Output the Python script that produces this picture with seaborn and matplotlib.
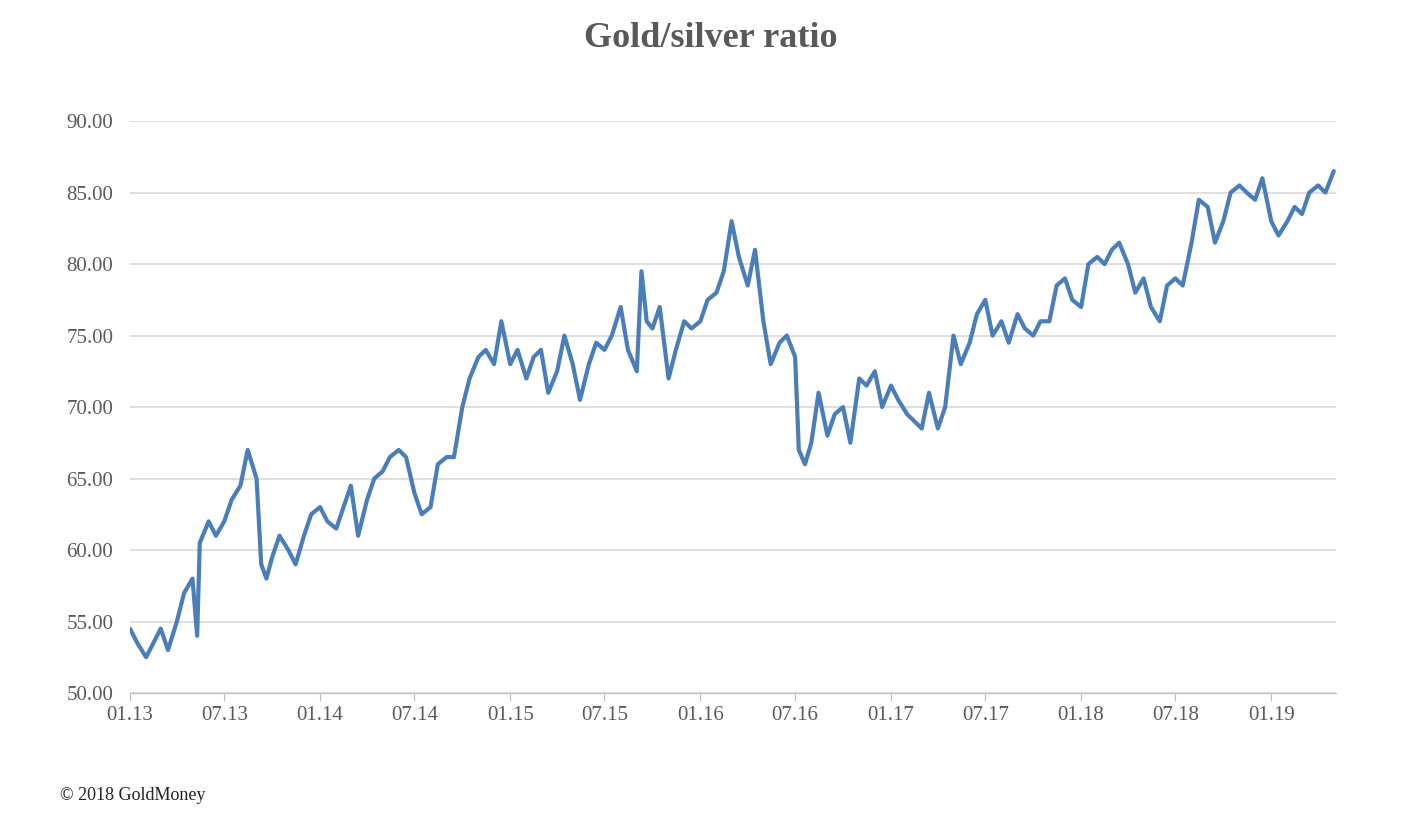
import matplotlib
matplotlib.use("Agg")
import matplotlib.pyplot as plt
import matplotlib.dates as mdates
import seaborn as sns
import pandas as pd

dates = [
"2013-01-01","2013-01-15","2013-02-01","2013-02-15","2013-03-01","2013-03-15","2013-04-01","2013-04-15","2013-05-01","2013-05-10","2013-05-15","2013-06-01","2013-06-15","2013-07-01","2013-07-15","2013-08-01","2013-08-15","2013-09-01","2013-09-10","2013-09-20","2013-10-01","2013-10-15","2013-11-01","2013-11-15","2013-12-01","2013-12-15",
"2014-01-01","2014-01-15","2014-02-01","2014-02-15","2014-03-01","2014-03-15","2014-04-01","2014-04-15","2014-05-01","2014-05-15","2014-06-01","2014-06-15","2014-07-01","2014-07-15","2014-08-01","2014-08-15","2014-09-01","2014-09-15","2014-10-01","2014-10-15","2014-11-01","2014-11-15","2014-12-01","2014-12-15",
"2015-01-01","2015-01-15","2015-02-01","2015-02-15","2015-03-01","2015-03-15","2015-04-01","2015-04-15","2015-05-01","2015-05-15","2015-06-01","2015-06-15","2015-07-01","2015-07-15","2015-08-01","2015-08-15","2015-09-01","2015-09-10","2015-09-20","2015-10-01","2015-10-15","2015-11-01","2015-11-15","2015-12-01","2015-12-15",
"2016-01-01","2016-01-15","2016-02-01","2016-02-15","2016-03-01","2016-03-15","2016-04-01","2016-04-15","2016-05-01","2016-05-15","2016-06-01","2016-06-15","2016-07-01","2016-07-08","2016-07-20","2016-08-01","2016-08-15","2016-09-01","2016-09-15","2016-10-01","2016-10-15","2016-11-01","2016-11-15","2016-12-01","2016-12-15",
"2017-01-01","2017-01-15","2017-02-01","2017-02-15","2017-03-01","2017-03-15","2017-04-01","2017-04-15","2017-05-01","2017-05-15","2017-06-01","2017-06-15","2017-07-01","2017-07-15","2017-08-01","2017-08-15","2017-09-01","2017-09-15","2017-10-01","2017-10-15","2017-11-01","2017-11-15","2017-12-01","2017-12-15",
"2018-01-01","2018-01-15","2018-02-01","2018-02-15","2018-03-01","2018-03-15","2018-04-01","2018-04-15","2018-05-01","2018-05-15","2018-06-01","2018-06-15","2018-07-01","2018-07-15","2018-08-01","2018-08-15","2018-09-01","2018-09-15","2018-10-01","2018-10-15","2018-11-01","2018-11-15","2018-12-01","2018-12-15",
"2019-01-01","2019-01-15","2019-02-01","2019-02-15","2019-03-01","2019-03-15","2019-04-01","2019-04-15","2019-05-01"]
ratio = [
54.5,53.5,52.5,53.5,54.5,53,55,57,58,54,60.5,62,61,62,63.5,64.5,67,65,59,58,59.5,61,60,59,61,62.5,
63,62,61.5,63,64.5,61,63.5,65,65.5,66.5,67,66.5,64,62.5,63,66,66.5,66.5,70,72,73.5,74,73,76,
73,74,72,73.5,74,71,72.5,75,73,70.5,73,74.5,74,75,77,74,72.5,79.5,76,75.5,77,72,74,76,75.5,
76,77.5,78,79.5,83,80.5,78.5,81,76,73,74.5,75,73.5,67,66,67.5,71,68,69.5,70,67.5,72,71.5,72.5,70,
71.5,70.5,69.5,69,68.5,71,68.5,70,75,73,74.5,76.5,77.5,75,76,74.5,76.5,75.5,75,76,76,78.5,79,77.5,
77,80,80.5,80,81,81.5,80,78,79,77,76,78.5,79,78.5,81.5,84.5,84,81.5,83,85,85.5,85,84.5,86,
83,82,83,84,83.5,85,85.5,85,86.5]
tick_labels = ["01.13","07.13","01.14","07.14","01.15","07.15","01.16","07.16","01.17","07.17","01.18","07.18","01.19"]
yticks = [50,55,60,65,70,75,80,85,90]

df = pd.DataFrame({"date": pd.to_datetime(dates), "ratio": ratio})
sns.set_style("white")
plt.rcParams['font.family'] = ['Liberation Serif', 'DejaVu Serif']
gray = "#595959"

fig = plt.figure(figsize=(14.22, 8.24), dpi=100)
ax = fig.add_axes([0.0914, 0.159, 0.848, 0.694])
sns.lineplot(data=df, x="date", y="ratio", ax=ax, color="#4a7ebb", linewidth=3)
ax.set_ylim(50, 90)
ax.set_xlim(pd.Timestamp("2013-01-01"), pd.Timestamp("2019-05-05"))
ax.set_yticks(yticks)
ax.set_yticklabels([f"{v:.2f}" for v in yticks])
ticks = pd.to_datetime(["20" + t[3:] + "-" + t[:2] + "-01" for t in tick_labels])
ax.set_xticks(ticks)
ax.set_xticklabels(tick_labels)
ax.grid(axis="y", color="#d9d9d9", linewidth=1.2)
ax.set_axisbelow(True)
for s in ["top", "right", "left"]:
    ax.spines[s].set_visible(False)
ax.spines["bottom"].set_color("#bfbfbf")
ax.tick_params(axis="x", length=6, color="#bfbfbf", colors=gray, labelsize=15, direction="out", bottom=True)
ax.tick_params(axis="y", length=0, colors=gray, labelsize=15, pad=12)
ax.set_xlabel(""); ax.set_ylabel("")
fig.text(0.5, 0.953, "Gold/silver ratio", ha="center", va="center", fontsize=26, fontweight="bold", color=gray)
fig.text(0.042, 0.029, "© 2018 GoldMoney", fontsize=13, color="#222222")
fig.savefig("out.png", dpi=100, facecolor="white")
